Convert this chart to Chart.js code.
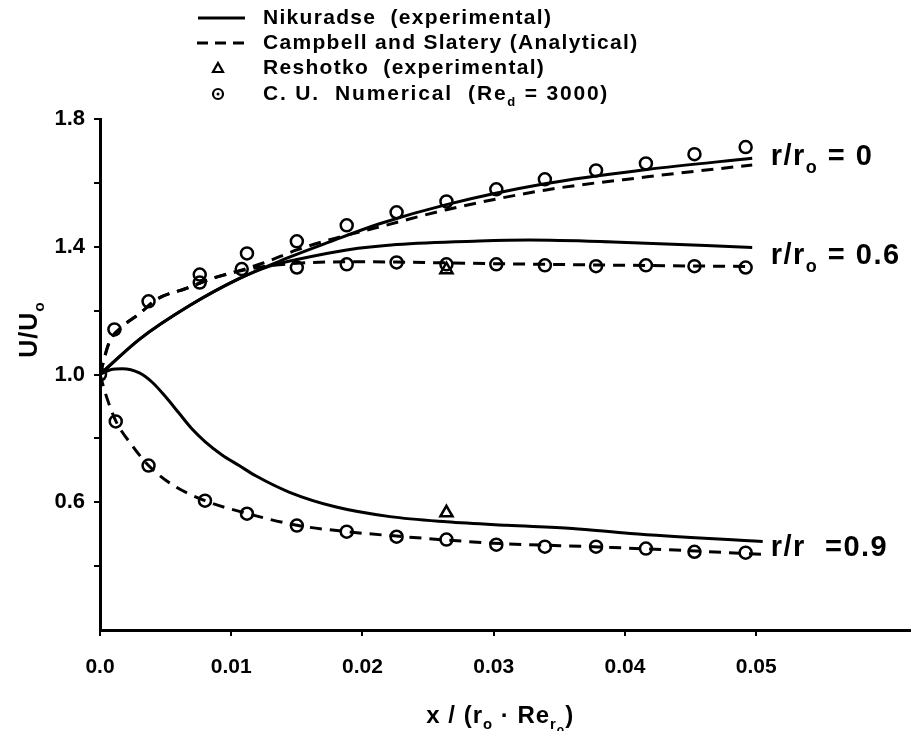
<!DOCTYPE html>
<html>
<head>
<meta charset="utf-8">
<script src="https://cdn.jsdelivr.net/npm/chart.js@4.4.0/dist/chart.umd.min.js"></script>
<style>
  html, body { margin: 0; padding: 0; background: #fff; }
  #wrap { width: 911px; height: 731px; }
</style>
</head>
<body>
<div id="wrap"><canvas id="chart" width="911" height="731"></canvas></div>
<script>
// axis ticks
const xTicks = [0, 0.01, 0.02, 0.03, 0.04, 0.05];
const xTickLabels = ['0.0', '0.01', '0.02', '0.03', '0.04', '0.05'];
const yTicks = [0.4, 0.6, 0.8, 1.0, 1.2, 1.4, 1.6, 1.8];
const yTickLabels = ['', '0.6', '', '1.0', '', '1.4', '', '1.8'];

// Nikuradse (experimental) - solid curves
const nik0X = [0, 0.003, 0.0068, 0.0106, 0.0137, 0.0175, 0.0213, 0.0264, 0.034, 0.0417, 0.0497];
const nik0Y = [1.0, 1.11, 1.215, 1.30, 1.355, 1.415, 1.472, 1.532, 1.598, 1.642, 1.677];
const nik6X = [0, 0.003, 0.0068, 0.0106, 0.013, 0.015, 0.0188, 0.0226, 0.0289, 0.0327, 0.0391, 0.0497];
const nik6Y = [1.0, 1.11, 1.215, 1.30, 1.34, 1.36, 1.39, 1.407, 1.418, 1.421, 1.415, 1.398];
const nik9X = [0, 0.0008, 0.0017, 0.003, 0.004, 0.005, 0.006, 0.007, 0.008, 0.0093, 0.0106, 0.0119, 0.0144, 0.018, 0.0221, 0.0264, 0.031, 0.036, 0.0404, 0.0505];
const nik9Y = [1.0, 1.015, 1.018, 1.005, 0.975, 0.93, 0.88, 0.83, 0.79, 0.748, 0.715, 0.682, 0.632, 0.585, 0.555, 0.539, 0.528, 0.518, 0.502, 0.477];

// Campbell and Slatery (Analytical) - dashed curves
const cam0X = [0, 0.0007, 0.0017, 0.003, 0.0043, 0.0066, 0.0085, 0.0102, 0.0125, 0.015, 0.0175, 0.0213, 0.0264, 0.034, 0.0417, 0.0497];
const cam0Y = [1.0, 1.10, 1.15, 1.19, 1.235, 1.27, 1.30, 1.32, 1.35, 1.39, 1.422, 1.462, 1.516, 1.578, 1.619, 1.656];
const cam6X = [0, 0.0007, 0.0017, 0.003, 0.0043, 0.0066, 0.0085, 0.0102, 0.0125, 0.015, 0.0188, 0.0226, 0.03, 0.04, 0.0497];
const cam6Y = [1.0, 1.10, 1.15, 1.19, 1.235, 1.27, 1.30, 1.32, 1.338, 1.348, 1.353, 1.352, 1.347, 1.342, 1.338];
const cam9X = [0, 0.0005, 0.0012, 0.0025, 0.0037, 0.0055, 0.008, 0.0112, 0.015, 0.0188, 0.0226, 0.03, 0.038, 0.045, 0.0505];
const cam9Y = [1.0, 0.93, 0.855, 0.775, 0.715, 0.655, 0.605, 0.565, 0.528, 0.508, 0.494, 0.472, 0.46, 0.448, 0.437];

// Reshotko (experimental) - triangles
const reshX = [0.0264, 0.0264];
const reshY = [1.328, 0.567];

// C. U. Numerical (Re_d = 3000) - circles
const cuX = [0,
  0.0076, 0.0112, 0.015, 0.0188, 0.0226, 0.0264, 0.0302, 0.0339, 0.0378, 0.0416, 0.0453, 0.0492,
  0.0011, 0.0037, 0.0076, 0.0108, 0.015, 0.0188, 0.0226, 0.0264, 0.0302, 0.0339, 0.0378, 0.0416, 0.0453, 0.0492,
  0.0012, 0.0037, 0.008, 0.0112, 0.015, 0.0188, 0.0226, 0.0264, 0.0302, 0.0339, 0.0378, 0.0416, 0.0453, 0.0492];
const cuY = [1.0,
  1.313, 1.379, 1.417, 1.467, 1.508, 1.542, 1.580, 1.611, 1.639, 1.661, 1.690, 1.712,
  1.141, 1.229, 1.288, 1.33, 1.335, 1.345, 1.351, 1.345, 1.345, 1.342, 1.339, 1.342, 1.339, 1.335,
  0.853, 0.715, 0.605, 0.564, 0.527, 0.508, 0.492, 0.483, 0.467, 0.461, 0.461, 0.455, 0.445, 0.442];

// curve labels at the right end
const curveLabels = [['r/r', 'o', ' = 0'], ['r/r', 'o', ' = 0.6'], ['r/r', '', '  =0.9']];
const curveLabelY = [1.68, 1.37, 0.458];

function pts(xs, ys) {
  return xs.map((x, i) => ({ x: x, y: ys[i] }));
}

function solid(xs, ys) {
  return {
    data: pts(xs, ys), showLine: true, pointRadius: 0, borderColor: '#000',
    borderWidth: 3, cubicInterpolationMode: 'monotone', order: 2
  };
}
function dashed(xs, ys) {
  return {
    data: pts(xs, ys), showLine: true, pointRadius: 0, borderColor: '#000',
    borderWidth: 3, borderDash: [12, 8], cubicInterpolationMode: 'monotone', order: 2
  };
}

const datasets = [
  solid(nik0X, nik0Y), solid(nik6X, nik6Y), solid(nik9X, nik9Y),
  dashed(cam0X, cam0Y), dashed(cam6X, cam6Y), dashed(cam9X, cam9Y),
  {
    data: pts(reshX, reshY), pointStyle: 'triangle', pointRadius: 7,
    borderColor: '#000', borderWidth: 2.5, backgroundColor: 'rgba(255,255,255,0)', order: 0
  },
  {
    data: pts(cuX, cuY), pointStyle: 'circle', pointRadius: 6,
    borderColor: '#000', borderWidth: 2.5, backgroundColor: 'rgba(255,255,255,0)', order: 1
  }
];

const FONT = '"Liberation Sans", Arial, sans-serif';

// draws text pieces; level 0 normal, 1 subscript, 2 sub-subscript
function drawRich(ctx, parts, x, y, size, align, spacing) {
  const sizes = [size, size * 0.62, size * 0.5];
  const shifts = [0, size * 0.38, size * 0.62];
  ctx.letterSpacing = (spacing || 0) + 'px';
  let total = 0;
  parts.forEach(p => {
    ctx.font = 'bold ' + sizes[p[1]] + 'px ' + FONT;
    total += ctx.measureText(p[0]).width;
  });
  let cx = align === 'center' ? x - total / 2 : x;
  ctx.textAlign = 'left';
  ctx.textBaseline = 'middle';
  parts.forEach(p => {
    ctx.font = 'bold ' + sizes[p[1]] + 'px ' + FONT;
    ctx.fillText(p[0], cx, y + shifts[p[1]]);
    cx += ctx.measureText(p[0]).width;
  });
  ctx.letterSpacing = '0px';
}

const figureText = {
  id: 'figureText',
  afterDraw(chart) {
    const ctx = chart.ctx;
    const xs = chart.scales.x, ys = chart.scales.y;
    ctx.save();
    ctx.fillStyle = '#000';
    ctx.strokeStyle = '#000';

    // legend
    const rows = [18, 43, 68, 94];
    ctx.lineWidth = 3;
    ctx.beginPath(); ctx.moveTo(198, rows[0]); ctx.lineTo(245, rows[0]); ctx.stroke();
    ctx.setLineDash([11, 7]);
    ctx.beginPath(); ctx.moveTo(197, rows[1]); ctx.lineTo(245, rows[1]); ctx.stroke();
    ctx.setLineDash([]);
    ctx.lineWidth = 2.2;
    ctx.beginPath();
    ctx.moveTo(218, rows[2] - 5); ctx.lineTo(223, rows[2] + 4); ctx.lineTo(213, rows[2] + 4); ctx.closePath();
    ctx.stroke();
    ctx.beginPath(); ctx.arc(218, rows[3], 5, 0, Math.PI * 2); ctx.stroke();
    ctx.beginPath(); ctx.arc(218, rows[3], 1.5, 0, Math.PI * 2); ctx.fill();

    drawRich(ctx, [['Nikuradse  (experimental)', 0]], 263, rows[0], 21, 'left', 1.3);
    drawRich(ctx, [['Campbell and Slatery (Analytical)', 0]], 263, rows[1], 21, 'left', 1.3);
    drawRich(ctx, [['Reshotko  (experimental)', 0]], 263, rows[2], 21, 'left', 1.3);
    drawRich(ctx, [['C. U.  Numerical  (Re', 0], ['d', 1], [' = 3000)', 0]], 263, rows[3], 21, 'left', 1.8);

    // curve labels
    const lx = xs.getPixelForValue(0.0505) + 8;
    curveLabels.forEach((lab, i) => {
      drawRich(ctx, [[lab[0], 0], [lab[1], 1], [lab[2], 0]], lx, ys.getPixelForValue(curveLabelY[i]), 29, 'left', 1.5);
    });

    // x axis title
    drawRich(ctx, [['x / (r', 0], ['o', 1], [' \u00b7 Re', 0], ['r', 1], ['o', 2], [')', 0]],
      xs.getPixelForValue(0.0305), 716, 24, 'center', 1);

    // y axis title
    ctx.translate(30, (ys.top + ys.bottom) / 2 - 45);
    ctx.rotate(-Math.PI / 2);
    drawRich(ctx, [['U/U', 0], ['o', 1]], 0, 0, 25, 'center', 1);
    ctx.restore();
  }
};

new Chart(document.getElementById('chart'), {
  type: 'scatter',
  data: { datasets: datasets },
  options: {
    responsive: false,
    animation: false,
    devicePixelRatio: 1,
    layout: { autoPadding: false, padding: { top: 119, right: 0, bottom: 0, left: 0 } },
    plugins: { legend: { display: false }, tooltip: { enabled: false } },
    scales: {
      x: {
        type: 'linear', min: 0, max: 0.0618,
        afterBuildTicks: s => { s.ticks = xTicks.map(v => ({ value: v })); },
        afterFit: s => { s.height = 101; },
        ticks: {
          autoSkip: false, maxRotation: 0, padding: 19, color: '#000',
          font: { family: FONT, size: 21, weight: 'bold' },
          callback: (v, i) => xTickLabels[i]
        },
        grid: { drawOnChartArea: false, drawTicks: true, tickLength: 6, color: '#000', lineWidth: 2 },
        border: { display: true, color: '#000', width: 3 }
      },
      y: {
        type: 'linear', min: 0.2, max: 1.8,
        afterBuildTicks: s => { s.ticks = yTicks.map(v => ({ value: v })); },
        afterFit: s => { s.width = 100; },
        ticks: {
          autoSkip: false, padding: 9, color: '#000',
          font: { family: FONT, size: 22, weight: 'bold' },
          callback: (v, i) => yTickLabels[i]
        },
        grid: { drawOnChartArea: false, drawTicks: true, tickLength: 6, color: '#000', lineWidth: 2 },
        border: { display: true, color: '#000', width: 3 }
      }
    }
  },
  plugins: [figureText]
});
</script>
</body>
</html>
